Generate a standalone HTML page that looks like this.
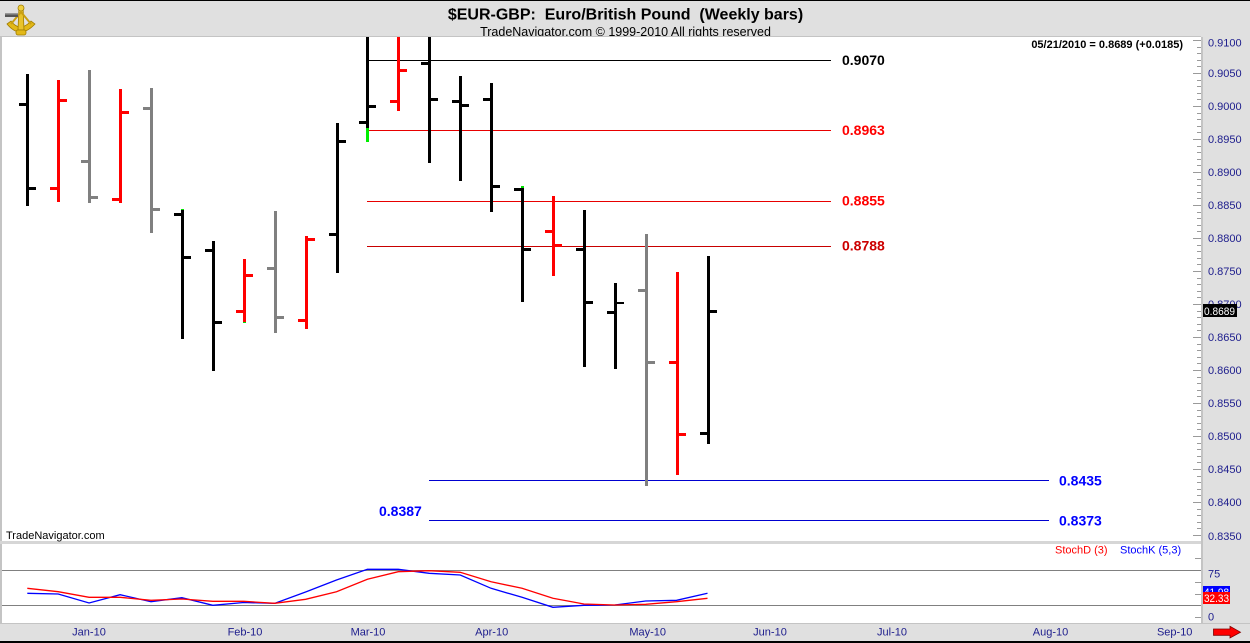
<!DOCTYPE html>
<html>
<head>
<meta charset="utf-8">
<style>
html,body{margin:0;padding:0;width:1250px;height:643px;overflow:hidden;background:#e0e0e0;}
svg{display:block;}
text{font-family:"Liberation Sans",Arial,sans-serif;}
</style>
</head>
<body>
<svg width="1250" height="643" viewBox="0 0 1250 643" xmlns="http://www.w3.org/2000/svg">
<!-- background -->
<rect x="0" y="0" width="1250" height="643" fill="#e0e0e0"/>
<rect x="0" y="0" width="1250" height="1" fill="#000"/>

<!-- header text -->
<text x="625.5" y="19.5" font-size="16" font-weight="bold" text-anchor="middle" fill="#000" xml:space="preserve">$EUR-GBP:  Euro/British Pound  (Weekly bars)</text>
<text x="625.5" y="36" font-size="12.5" text-anchor="middle" fill="#000">TradeNavigator.com © 1999-2010 All rights reserved</text>

<!-- logo -->
<g>
  <path d="M7 24 Q20 40 35 24 L31 21 Q20 33 11 21 Z" fill="#e2b818" stroke="#a07c00" stroke-width="0.8"/>
  <path d="M19 6 L23 6 L24 30 L18 30 Z" fill="#e8c22a" stroke="#a07c00" stroke-width="0.8"/>
  <path d="M21 12 L11 24 M21 12 L31 24" stroke="#c99f10" stroke-width="2" fill="none"/>
  <circle cx="21" cy="8" r="3" fill="#f0d040" stroke="#a07c00" stroke-width="0.8"/>
  <rect x="5" y="13" width="13" height="4" fill="#555"/>
  <rect x="5" y="13" width="13" height="1.5" fill="#999"/>
  <rect x="16" y="30" width="10" height="5" rx="2" fill="#e2b818" stroke="#a07c00" stroke-width="0.8"/>
</g>

<!-- main chart area -->
<rect x="0" y="36" width="1201" height="1" fill="#c4c4c4"/>
<rect x="0" y="37" width="2" height="586" fill="#c4c4c4"/>
<rect x="2" y="37" width="1199" height="504" fill="#fff"/>
<rect x="0" y="541" width="1201" height="3" fill="#d6d6d6"/>
<rect x="2" y="544" width="1199" height="79" fill="#fff"/>
<rect x="0" y="623" width="1250" height="1" fill="#c4c4c4"/>
<rect x="1201" y="37" width="2" height="587" fill="#c4c4c4"/>
<rect x="0" y="641" width="1250" height="2" fill="#000"/>

<!-- right axis ticks -->
<path stroke="#9a9a9a" stroke-width="1" fill="none" shape-rendering="crispEdges" d="M1193 40.5h8M1193 73.5h8M1193 106.5h8M1193 139.5h8M1193 172.5h8M1193 205.5h8M1193 238.5h8M1193 271.5h8M1193 304.5h8M1193 337.5h8M1193 370.5h8M1193 403.5h8M1193 436.5h8M1193 469.5h8M1193 502.5h8M1193 535.5h8
M1197 47.5h4M1197 53.5h4M1197 60.5h4M1197 66.5h4
M1197 80.5h4M1197 86.5h4M1197 93.5h4M1197 99.5h4
M1197 113.5h4M1197 119.5h4M1197 126.5h4M1197 132.5h4
M1197 146.5h4M1197 152.5h4M1197 159.5h4M1197 165.5h4
M1197 179.5h4M1197 185.5h4M1197 192.5h4M1197 198.5h4
M1197 212.5h4M1197 218.5h4M1197 225.5h4M1197 231.5h4
M1197 245.5h4M1197 251.5h4M1197 258.5h4M1197 264.5h4
M1197 278.5h4M1197 284.5h4M1197 291.5h4M1197 297.5h4
M1197 311.5h4M1197 317.5h4M1197 324.5h4M1197 330.5h4
M1197 344.5h4M1197 350.5h4M1197 357.5h4M1197 363.5h4
M1197 377.5h4M1197 383.5h4M1197 390.5h4M1197 396.5h4
M1197 410.5h4M1197 416.5h4M1197 423.5h4M1197 429.5h4
M1197 443.5h4M1197 449.5h4M1197 456.5h4M1197 462.5h4
M1197 476.5h4M1197 482.5h4M1197 489.5h4M1197 495.5h4
M1197 509.5h4M1197 515.5h4M1197 522.5h4M1197 528.5h4
M1195 558.5h6M1193 570.5h8M1195 582.5h6M1195 594.5h6M1193 605.5h8M1195 617.5h6"/>

<!-- right axis labels -->
<g font-size="11" fill="#1c1c8c">
<text x="1208" y="46.7">0.9100</text>
<text x="1208" y="77">0.9050</text>
<text x="1208" y="110">0.9000</text>
<text x="1208" y="143">0.8950</text>
<text x="1208" y="176">0.8900</text>
<text x="1208" y="209">0.8850</text>
<text x="1208" y="242">0.8800</text>
<text x="1208" y="275">0.8750</text>
<text x="1208" y="308">0.8700</text>
<text x="1208" y="341">0.8650</text>
<text x="1208" y="374">0.8600</text>
<text x="1208" y="407">0.8550</text>
<text x="1208" y="440">0.8500</text>
<text x="1208" y="473">0.8450</text>
<text x="1208" y="506">0.8400</text>
<text x="1208" y="540">0.8350</text>
<text x="1208" y="577.3">75</text>
<text x="1208" y="620.7">0</text>
</g>

<!-- current value box -->
<rect x="1203" y="304" width="34" height="13" fill="#000"/>
<text x="1204" y="315" font-size="11" fill="#fff" textLength="31" lengthAdjust="spacingAndGlyphs">0.8689</text>

<!-- date header -->
<text x="1183" y="48" font-size="11" font-weight="bold" text-anchor="end" fill="#000">05/21/2010 = 0.8689 (+0.0185)</text>

<!-- horizontal level lines -->
<g shape-rendering="crispEdges">
<rect x="369" y="60" width="462" height="1" fill="#000"/>
<rect x="367" y="130" width="464" height="1" fill="#e80000"/>
<rect x="367" y="201" width="464" height="1" fill="#e80000"/>
<rect x="367" y="246" width="464" height="1" fill="#c80000"/>
<rect x="429" y="480" width="620" height="1" fill="#0000d0"/>
<rect x="429" y="520" width="620" height="1" fill="#0000d0"/>
</g>
<g font-size="14" font-weight="bold">
<text x="842" y="65" fill="#000">0.9070</text>
<text x="842" y="135" fill="#ff0000">0.8963</text>
<text x="842" y="205.5" fill="#ff0000">0.8855</text>
<text x="842" y="250.5" fill="#cc0000">0.8788</text>
<text x="1059" y="485.3" fill="#0000ff">0.8435</text>
<text x="1059" y="525.3" fill="#0000ff">0.8373</text>
<text x="379" y="516" fill="#0000ff">0.8387</text>
</g>

<!-- bars -->
<g shape-rendering="crispEdges">
<g fill="#000"><rect x="26" y="74" width="3" height="132"/><rect x="19" y="103" width="7" height="3"/><rect x="29" y="187" width="7" height="3"/></g>
<g fill="#ff0000"><rect x="57" y="80" width="3" height="122"/><rect x="50" y="187" width="7" height="3"/><rect x="60" y="99" width="7" height="3"/></g>
<g fill="#808080"><rect x="88" y="70" width="3" height="133"/><rect x="81" y="160" width="7" height="3"/><rect x="91" y="196" width="7" height="3"/></g>
<g fill="#ff0000"><rect x="119" y="89" width="3" height="114"/><rect x="112" y="198" width="7" height="3"/><rect x="122" y="111" width="7" height="3"/></g>
<g fill="#808080"><rect x="150" y="88" width="3" height="145"/><rect x="143" y="107" width="7" height="3"/><rect x="153" y="208" width="7" height="3"/></g>
<g fill="#000"><rect x="181" y="209" width="3" height="130"/><rect x="174" y="213" width="7" height="3"/><rect x="184" y="256" width="7" height="3"/></g>
<rect x="181" y="209" width="3" height="1" fill="#00e000"/>
<g fill="#000"><rect x="212" y="241" width="3" height="130"/><rect x="205" y="249" width="7" height="3"/><rect x="215" y="321" width="7" height="3"/></g>
<g fill="#ff0000"><rect x="243" y="259" width="3" height="64"/><rect x="236" y="310" width="7" height="3"/><rect x="246" y="274" width="7" height="3"/></g>
<rect x="243" y="322" width="3" height="1" fill="#00e000"/>
<g fill="#808080"><rect x="274" y="211" width="3" height="122"/><rect x="267" y="267" width="7" height="3"/><rect x="277" y="316" width="7" height="3"/></g>
<g fill="#ff0000"><rect x="305" y="236" width="3" height="93"/><rect x="298" y="319" width="7" height="3"/><rect x="308" y="238" width="7" height="3"/></g>
<g fill="#000"><rect x="336" y="123" width="3" height="150"/><rect x="329" y="233" width="7" height="3"/><rect x="339" y="140" width="7" height="3"/></g>
<g fill="#000"><rect x="366" y="37" width="3" height="91"/><rect x="359" y="121" width="7" height="3"/><rect x="369" y="105" width="7" height="3"/></g>
<rect x="366" y="128" width="3" height="14" fill="#00ee00"/>
<g fill="#ff0000"><rect x="397" y="37" width="3" height="74"/><rect x="390" y="100" width="7" height="3"/><rect x="400" y="69" width="7" height="3"/></g>
<g fill="#000"><rect x="428" y="37" width="3" height="126"/><rect x="421" y="62" width="7" height="3"/><rect x="431" y="98" width="7" height="3"/></g>
<g fill="#000"><rect x="459" y="76" width="3" height="105"/><rect x="452" y="100" width="7" height="3"/><rect x="462" y="104" width="7" height="3"/></g>
<g fill="#000"><rect x="490" y="83" width="3" height="129"/><rect x="483" y="98" width="7" height="3"/><rect x="493" y="185" width="7" height="3"/></g>
<g fill="#000"><rect x="521" y="186" width="3" height="116"/><rect x="514" y="188" width="7" height="3"/><rect x="524" y="248" width="7" height="3"/></g>
<rect x="521" y="186" width="3" height="2" fill="#00e000"/>
<g fill="#ff0000"><rect x="552" y="196" width="3" height="80"/><rect x="545" y="230" width="7" height="3"/><rect x="555" y="244" width="7" height="3"/></g>
<g fill="#000"><rect x="583" y="210" width="3" height="157"/><rect x="576" y="248" width="7" height="3"/><rect x="586" y="301" width="7" height="3"/></g>
<g fill="#000"><rect x="614" y="283" width="3" height="86"/><rect x="607" y="311" width="7" height="3"/><rect x="617" y="302" width="7" height="2"/></g>
<g fill="#808080"><rect x="645" y="234" width="3" height="252"/><rect x="638" y="289" width="7" height="3"/><rect x="648" y="361" width="7" height="3"/></g>
<g fill="#ff0000"><rect x="676" y="272" width="3" height="203"/><rect x="669" y="361" width="7" height="3"/><rect x="679" y="433" width="7" height="3"/></g>
<g fill="#000"><rect x="707" y="256" width="3" height="188"/><rect x="700" y="432" width="7" height="3"/><rect x="710" y="310" width="7" height="3"/></g>
</g>

<text x="6" y="539" font-size="11" fill="#000">TradeNavigator.com</text>

<!-- stochastic panel -->
<rect x="2" y="570" width="1199" height="1" fill="#808080" shape-rendering="crispEdges"/>
<rect x="2" y="605" width="1199" height="1" fill="#808080" shape-rendering="crispEdges"/>
<text x="1055" y="553.3" font-size="11" fill="#ff0000">StochD (3)</text>
<text x="1120" y="553.3" font-size="11" fill="#0000ff">StochK (5,3)</text>

<polyline fill="none" stroke="#0000ff" stroke-width="1.3" points="27.3,593.3 58.2,594 89.1,603 120.1,594.7 151,601.7 181.9,597.7 212.8,605.3 243.7,602.5 274.7,603.3 305.6,592 336.5,580 367.4,569.3 398.3,569.3 429.3,573.3 460.2,575 491.1,588.3 522,597.3 552.9,607.3 583.9,605.3 614.8,605 645.7,601 676.6,600.3 707.5,593.3"/>
<polyline fill="none" stroke="#ff0000" stroke-width="1.3" points="27.3,588.3 58.2,591.7 89.1,597.3 120.1,597.3 151,600.3 181.9,599 212.8,601.3 243.7,601.3 274.7,603.3 305.6,599.3 336.5,591.7 367.4,579.3 398.3,571.7 429.3,570.7 460.2,572.3 491.1,581.7 522,588.3 552.9,598.3 583.9,604 614.8,605 645.7,604.3 676.6,601.7 707.5,598.3"/>

<!-- stoch value boxes -->
<rect x="1203" y="586" width="27" height="12" fill="#0000ff"/>
<text x="1204" y="596" font-size="11" fill="#fff" textLength="25" lengthAdjust="spacingAndGlyphs">41.98</text>
<rect x="1203" y="592" width="27" height="12" fill="#ff0000"/>
<text x="1204" y="602" font-size="11" fill="#fff" textLength="25" lengthAdjust="spacingAndGlyphs">32.33</text>

<!-- month labels -->
<g font-size="11" fill="#1c1c8c" text-anchor="middle">
<text x="89" y="635.7">Jan-10</text>
<text x="245" y="635.7">Feb-10</text>
<text x="368" y="635.7">Mar-10</text>
<text x="491.7" y="635.7">Apr-10</text>
<text x="647.7" y="635.7">May-10</text>
<text x="770" y="635.7">Jun-10</text>
<text x="892" y="635.7">Jul-10</text>
<text x="1050.5" y="635.7">Aug-10</text>
<text x="1174.7" y="635.7">Sep-10</text>
</g>

<!-- red arrow -->
<path d="M1213.5 629 H1230 V626.3 L1240.5 632.2 L1230 638 V635.3 H1213.5 Z" fill="#ff0000" stroke="#800000" stroke-width="0.8"/>
</svg>
</body>
</html>
